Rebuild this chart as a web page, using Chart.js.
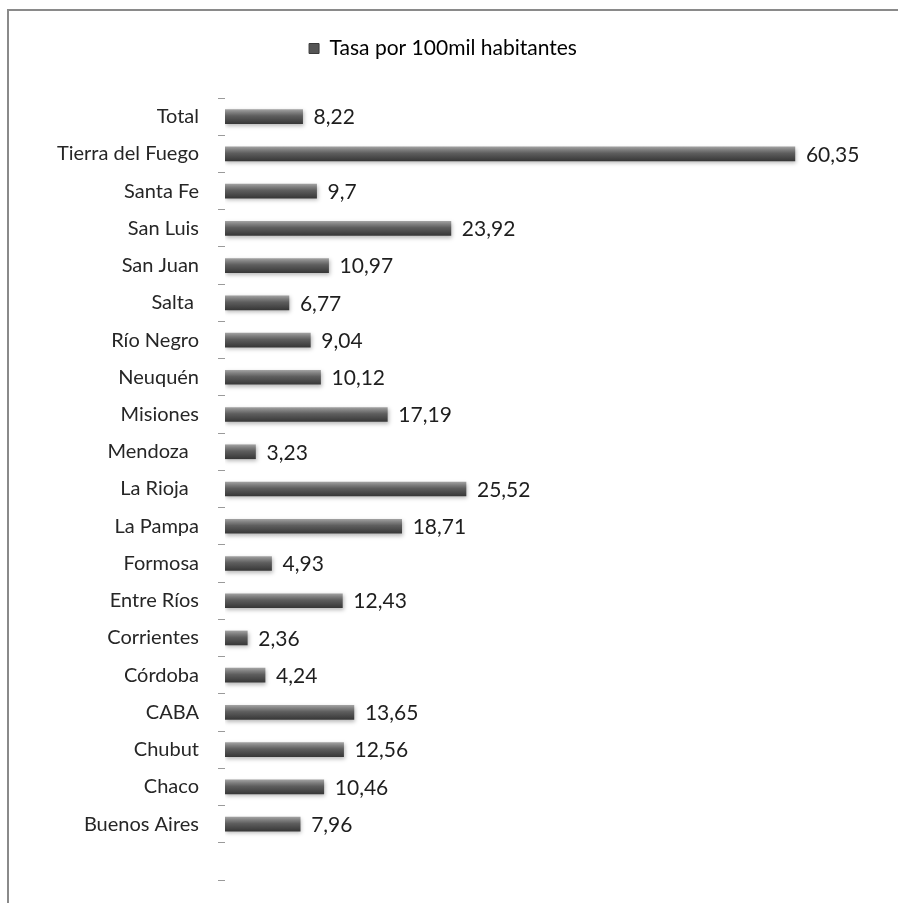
<!DOCTYPE html>
<html>
<head>
<meta charset="utf-8">
<script src="https://cdn.jsdelivr.net/npm/chart.js@4"></script>
<style>
  html, body { margin: 0; padding: 0; background: #ffffff; overflow: hidden; }
  canvas { display: block; }
</style>
</head>
<body>
<canvas id="c" width="898" height="903"></canvas>
<script>
const seriesName = 'Tasa por 100mil habitantes';
const categories = ['Total', 'Tierra del Fuego', 'Santa Fe', 'San Luis', 'San Juan', 'Salta ',
  'Río Negro', 'Neuquén', 'Misiones', 'Mendoza  ', 'La Rioja  ', 'La Pampa', 'Formosa',
  'Entre Ríos', 'Corrientes', 'Córdoba', 'CABA', 'Chubut', 'Chaco', 'Buenos Aires', ''];
const values = [8.22, 60.35, 9.7, 23.92, 10.97, 6.77, 9.04, 10.12, 17.19, 3.23, 25.52, 18.71,
  4.93, 12.43, 2.36, 4.24, 13.65, 12.56, 10.46, 7.96, null];

const FONT = "Lato, 'Open Sans', sans-serif";

function barGradient(ctx) {
  const chart = ctx.chart;
  const c = chart.ctx;
  let yc = 0;
  if (ctx.type === 'data' && chart.scales.y) {
    yc = chart.scales.y.getPixelForValue(ctx.dataIndex);
  }
  const g = c.createLinearGradient(0, yc - 7, 0, yc + 7);
  g.addColorStop(0, '#a0a0a0');
  g.addColorStop(0.2, '#808080');
  g.addColorStop(0.45, '#5e5e5e');
  g.addColorStop(1, '#383838');
  return g;
}

const frame = {
  id: 'frame',
  beforeDraw(chart) {
    const c = chart.ctx;
    c.save();
    c.fillStyle = '#ffffff';
    c.fillRect(0, 0, chart.width, chart.height);
    c.strokeStyle = '#8a8a8a';
    c.lineWidth = 2;
    c.beginPath();
    c.moveTo(8, chart.height + 5);
    c.lineTo(8, 10);
    c.lineTo(chart.width + 5, 10);
    c.stroke();
    c.restore();
  }
};

const legendFix = {
  id: 'legendFix',
  beforeLayout(chart) {
    const lg = chart.legend;
    if (lg && !lg._fixed) {
      const origFit = lg.fit;
      lg.fit = function () { origFit.call(this); this.height = 70; };
      lg._fixed = true;
    }
  }
};

const barShadow = {
  id: 'barShadow',
  beforeDatasetsDraw(chart) {
    const c = chart.ctx;
    c.save();
    c.shadowColor = 'rgba(0,0,0,0.28)';
    c.shadowBlur = 4;
    c.shadowOffsetX = 1;
    c.shadowOffsetY = 2;
  },
  afterDatasetsDraw(chart) {
    chart.ctx.restore();
  }
};

const valueLabels = {
  id: 'valueLabels',
  afterDatasetsDraw(chart) {
    const c = chart.ctx;
    const meta = chart.getDatasetMeta(0);
    c.save();
    c.font = "21px " + FONT;
    c.fillStyle = '#1e1e1e';
    c.textAlign = 'left';
    c.textBaseline = 'middle';
    meta.data.forEach((el, i) => {
      const v = values[i];
      if (v === null || v === undefined) return;
      c.fillText(String(v).replace('.', ','), el.x + 11, el.y + 1);
    });
    c.restore();
  }
};

new Chart(document.getElementById('c'), {
  type: 'bar',
  data: {
    labels: categories,
    datasets: [{
      label: seriesName,
      data: values,
      backgroundColor: barGradient,
      borderWidth: 0,
      barThickness: 14
    }]
  },
  options: {
    indexAxis: 'y',
    responsive: false,
    devicePixelRatio: 1,
    animation: false,
    layout: { padding: { top: 28, right: 12, bottom: 23, left: 0 } },
    scales: {
      x: { display: false, min: 0, max: 70 },
      y: {
        afterFit(scale) { scale.width = 225; scale.paddingTop = 0; scale.paddingBottom = 0; },
        border: { display: false },
        grid: { display: true, drawOnChartArea: false, drawTicks: true, tickLength: 7,
                color: '#9a9a9a', offset: true },
        ticks: { color: '#262626', padding: 19, font: { family: FONT, size: 20 }, autoSkip: false }
      }
    },
    plugins: {
      legend: {
        display: true,
        position: 'top',
        labels: {
          color: '#1e1e1e',
          font: { family: FONT, size: 21 },
          boxWidth: 10, boxHeight: 10, padding: 10,
          generateLabels(chart) {
            return [{ text: seriesName, fillStyle: '#555555', strokeStyle: '#3a3a3a',
                      lineWidth: 1, datasetIndex: 0 }];
          }
        }
      },
      tooltip: { enabled: false }
    }
  },
  plugins: [frame, legendFix, barShadow, valueLabels]
});
</script>
</body>
</html>
